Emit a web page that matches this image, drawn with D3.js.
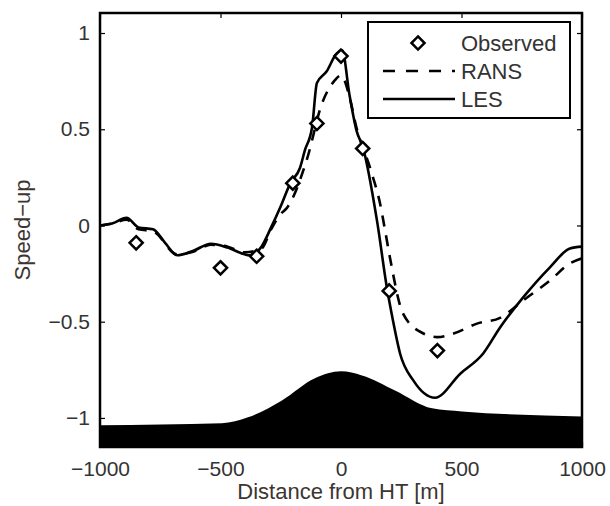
<!DOCTYPE html>
<html><head><meta charset="utf-8">
<script src="https://cdn.jsdelivr.net/npm/d3@7"></script>
<style>body{margin:0;background:#fff}svg{display:block}</style>
</head><body>
<svg id="c" width="610" height="506"></svg>
<script>
// ---- data ----
const xTicks = [-1000, -500, 0, 500, 1000];
const yTicks = [-1, -0.5, 0, 0.5, 1];
const yTickLabels = ["\u22121", "\u22120.5", "0", "0.5", "1"];
const xTickLabels = ["\u22121000", "\u2212500", "0", "500", "1000"];

const obsX = [-850, -500, -350, -200, -100, 0, 90, 200, 400];
const obsY = [-0.09, -0.22, -0.16, 0.22, 0.53, 0.88, 0.40, -0.34, -0.65];

const lesX = [-1000, -950, -890, -840, -780, -730, -680, -610, -540, -470, -400, -380, -330, -290, -250, -210, -170, -150, -120, -100, -60, -20, 5, 35, 65, 90, 150, 190, 215, 245, 300, 390, 495, 590, 660, 755, 865, 950, 1000];
const lesY = [0, 0.01, 0.04, -0.01, -0.02, -0.09, -0.155, -0.13, -0.095, -0.115, -0.15, -0.155, -0.11, -0.01, 0.1, 0.22, 0.30, 0.39, 0.51, 0.74, 0.80, 0.89, 0.91, 0.68, 0.49, 0.41, 0.02, -0.32, -0.49, -0.665, -0.805, -0.895, -0.77, -0.665, -0.53, -0.375, -0.22, -0.12, -0.11];

const ransX = [-1000, -950, -890, -840, -780, -680, -610, -540, -470, -400, -330, -290, -250, -225, -140, -80, -25, 0, 37, 60, 128, 162, 183, 203, 257, 340, 400, 470, 564, 660, 755, 867, 950, 1000];
const ransY = [0, 0.01, 0.03, -0.02, -0.03, -0.15, -0.135, -0.1, -0.11, -0.14, -0.12, -0.02, 0.06, 0.09, 0.35, 0.63, 0.755, 0.78, 0.66, 0.53, 0.27, 0.114, -0.026, -0.166, -0.457, -0.56, -0.58, -0.56, -0.51, -0.48, -0.39, -0.286, -0.197, -0.17];

const terrX = [-1000, -494, -386, -245, -108, 0, 87, 224, 378, 502, 1000];
const terrY = [-1.038, -1.028, -0.997, -0.909, -0.794, -0.758, -0.779, -0.857, -0.950, -0.966, -0.992];

const legendLabels = ["Observed", "RANS", "LES"];

// ---- chart ----
const svg = d3.select("#c");
const L = 100, R = 582, T = 13, B = 447;
const x = d3.scaleLinear().domain([-1000, 1000]).range([L, R]);
const y = d3.scaleLinear().domain([-1.151, 1.104]).range([B, T]);
const font = "'Liberation Sans', Arial, sans-serif";
const txt = "#333";

svg.append("defs").append("clipPath").attr("id", "clip")
  .append("rect").attr("x", L).attr("y", T).attr("width", R - L).attr("height", B - T);
const g = svg.append("g").attr("clip-path", "url(#clip)");

const line = d3.line().x(d => x(d[0])).y(d => y(d[1])).curve(d3.curveMonotoneX);
const les = lesX.map((v, i) => [v, lesY[i]]);
const rans = ransX.map((v, i) => [v, ransY[i]]);

g.append("path").datum(rans).attr("d", line).attr("fill", "none")
  .attr("stroke", "#000").attr("stroke-width", 2.6).attr("stroke-dasharray", "11,9");
g.append("path").datum(les).attr("d", line).attr("fill", "none")
  .attr("stroke", "#000").attr("stroke-width", 2.6);

// terrain
const terr = terrX.map((v, i) => [v, terrY[i]]);
const area = d3.area().x(d => x(d[0])).y0(B).y1(d => y(d[1])).curve(d3.curveMonotoneX);
g.append("path").datum(terr).attr("d", area).attr("fill", "#000");

// observed diamonds
const diamond = d3.symbol().type(d3.symbolDiamond2).size(110);
g.selectAll(".obs").data(obsX.map((v, i) => [v, obsY[i]])).enter().append("path")
  .attr("d", diamond).attr("transform", d => `translate(${x(d[0])},${y(d[1])})`)
  .attr("fill", "#fff").attr("stroke", "#000").attr("stroke-width", 2.5);

// axes
const tl = 5;
const xb = d3.axisBottom(x).tickValues(xTicks).tickSize(-tl).tickFormat((d, i) => xTickLabels[i]).tickPadding(14);
const xt = d3.axisTop(x).tickValues(xTicks).tickSize(-tl).tickFormat("");
const yl = d3.axisLeft(y).tickValues(yTicks).tickSize(-tl).tickFormat((d, i) => yTickLabels[i]).tickPadding(10);
const yr = d3.axisRight(y).tickValues(yTicks).tickSize(-tl).tickFormat("");
function style(sel) {
  sel.select(".domain").remove();
  sel.selectAll(".tick line").attr("stroke", "#000").attr("stroke-width", 1.2);
  sel.selectAll(".tick text").attr("font-family", font).attr("font-size", 21).attr("fill", txt);
}
svg.append("g").attr("transform", `translate(0,${B})`).call(xb).call(style);
svg.append("g").attr("transform", `translate(0,${T})`).call(xt).call(style);
svg.append("g").attr("transform", `translate(${L},0)`).call(yl).call(style);
svg.append("g").attr("transform", `translate(${R},0)`).call(yr).call(style);

// frame
svg.append("rect").attr("x", L).attr("y", T).attr("width", R - L).attr("height", B - T)
  .attr("fill", "none").attr("stroke", "#000").attr("stroke-width", 2.5);

// labels
svg.append("text").attr("x", (L + R) / 2).attr("y", 499).attr("text-anchor", "middle")
  .attr("font-family", font).attr("font-size", 22).attr("fill", "#3d3530").text("Distance from HT [m]");
svg.append("text").attr("transform", "translate(30,230) rotate(-90)").attr("text-anchor", "middle")
  .attr("font-family", font).attr("font-size", 22).attr("fill", "#3d3530").text("Speed\u2212up");

// legend
const lg = svg.append("g");
lg.append("rect").attr("x", 368).attr("y", 22).attr("width", 202).attr("height", 96)
  .attr("fill", "#fff").attr("stroke", "#000").attr("stroke-width", 2);
const ly = [43, 71, 99];
lg.append("path").attr("d", diamond).attr("transform", `translate(418,${ly[0]})`)
  .attr("fill", "#fff").attr("stroke", "#000").attr("stroke-width", 2.5);
lg.append("line").attr("x1", 383).attr("x2", 455).attr("y1", ly[1]).attr("y2", ly[1])
  .attr("stroke", "#000").attr("stroke-width", 2.6).attr("stroke-dasharray", "12,11");
lg.append("line").attr("x1", 383).attr("x2", 455).attr("y1", ly[2]).attr("y2", ly[2])
  .attr("stroke", "#000").attr("stroke-width", 2.6);
lg.selectAll(".lt").data(legendLabels).enter().append("text")
  .attr("x", 461).attr("y", (d, i) => ly[i] + 8)
  .attr("font-family", font).attr("font-size", 22).attr("fill", txt).text(d => d);
</script>
</body></html>
